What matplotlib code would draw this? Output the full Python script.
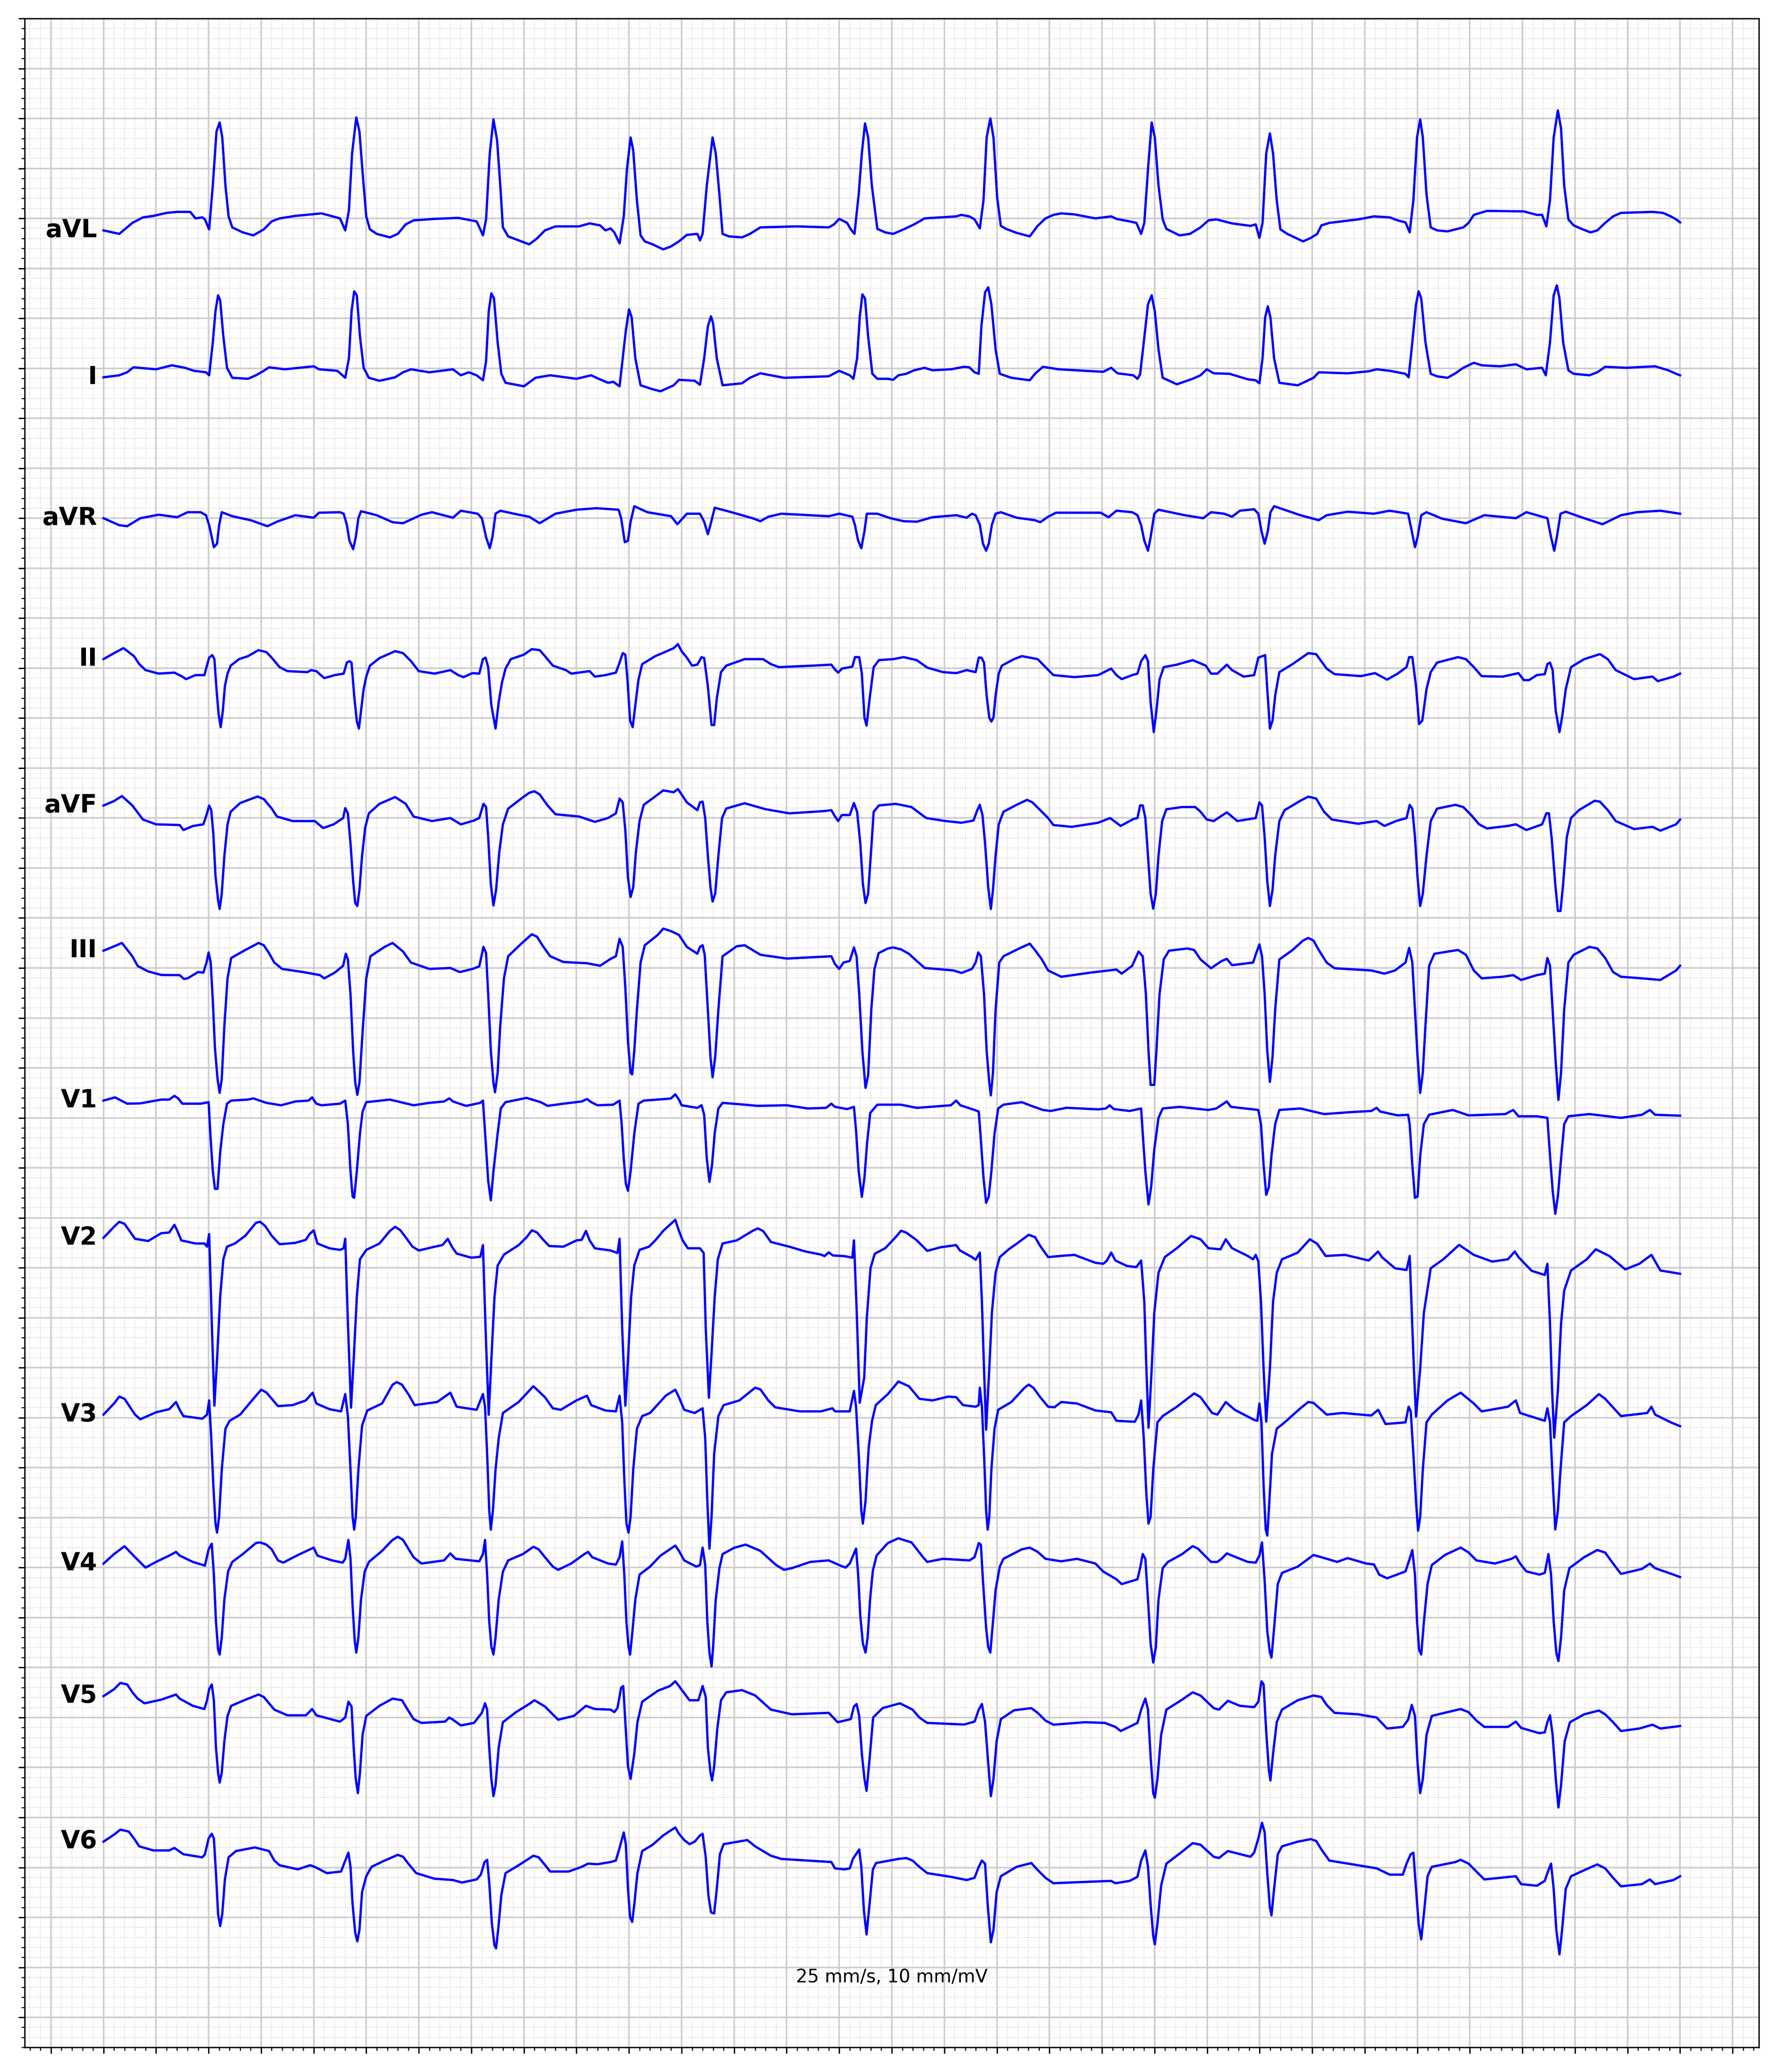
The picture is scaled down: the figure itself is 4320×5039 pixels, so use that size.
import numpy as np
import matplotlib
matplotlib.use("Agg")
import matplotlib.pyplot as plt
from matplotlib.ticker import MultipleLocator

# 12-lead ECG, 6 s (time in s, amplitude in mV)
LEADS = ["aVL", "I", "aVR", "II", "aVF", "III", "V1", "V2", "V3", "V4", "V5", "V6"]

AVL = np.array([
0.000,-0.12, 0.060,-0.155, 0.110,-0.045, 0.150,0.01, 0.190,0.025, 0.240,0.055, 0.280,0.065, 0.330,0.065, 0.350,0.0, 0.376,0.01, 0.386,-0.01, 0.402,-0.11, 0.416,0.33, 0.430,0.87, 0.442,0.96, 0.452,0.81, 0.464,0.33, 0.476,0.02, 0.490,-0.09, 0.530,-0.14, 0.570,-0.17, 0.610,-0.11, 0.640,-0.03, 0.670,0.0, 0.730,0.025, 0.830,0.05, 0.900,0.0, 0.920,-0.12, 0.934,0.08, 0.946,0.65, 0.962,1.01, 0.974,0.87, 0.986,0.46, 1.000,0.02, 1.014,-0.11, 1.040,-0.155, 1.090,-0.19, 1.120,-0.155, 1.150,-0.06, 1.180,-0.02, 1.260,-0.005, 1.350,0.005, 1.420,-0.03, 1.434,-0.11, 1.444,-0.17, 1.456,-0.01, 1.470,0.65, 1.484,0.99, 1.498,0.78, 1.510,0.33, 1.520,-0.09, 1.540,-0.18, 1.590,-0.23, 1.620,-0.26, 1.650,-0.2, 1.680,-0.12, 1.720,-0.08, 1.810,-0.08, 1.850,-0.05, 1.890,-0.07, 1.910,-0.12, 1.930,-0.1, 1.944,-0.14, 1.964,-0.25, 1.980,0.02, 1.992,0.49, 2.006,0.81, 2.016,0.68, 2.030,0.18, 2.044,-0.17, 2.060,-0.23, 2.090,-0.26, 2.130,-0.31, 2.160,-0.28, 2.190,-0.23, 2.220,-0.165, 2.260,-0.155, 2.270,-0.22, 2.280,-0.155, 2.296,0.33, 2.318,0.81, 2.330,0.65, 2.344,0.24, 2.356,-0.155, 2.380,-0.18, 2.430,-0.19, 2.460,-0.155, 2.500,-0.09, 2.640,-0.08, 2.760,-0.09, 2.780,-0.06, 2.800,-0.005, 2.830,-0.045, 2.844,-0.11, 2.858,-0.155, 2.874,0.24, 2.886,0.65, 2.898,0.95, 2.910,0.81, 2.924,0.33, 2.945,-0.105, 2.975,-0.14, 3.005,-0.155, 3.045,-0.11, 3.085,-0.06, 3.125,0.0, 3.245,0.02, 3.265,0.035, 3.295,0.02, 3.315,-0.01, 3.335,-0.1, 3.349,0.18, 3.361,0.81, 3.375,1.0, 3.387,0.81, 3.401,0.21, 3.415,-0.075, 3.435,-0.105, 3.475,-0.145, 3.525,-0.18, 3.555,-0.075, 3.585,0.0, 3.615,0.035, 3.645,0.05, 3.695,0.04, 3.775,0.0, 3.835,0.02, 3.855,-0.005, 3.905,-0.03, 3.931,-0.045, 3.949,-0.155, 3.961,-0.045, 3.975,0.49, 3.989,0.96, 4.001,0.81, 4.015,0.33, 4.031,-0.01, 4.045,-0.105, 4.095,-0.17, 4.135,-0.155, 4.175,-0.09, 4.205,-0.02, 4.235,-0.01, 4.295,-0.05, 4.365,-0.075, 4.385,-0.06, 4.399,-0.195, 4.411,-0.045, 4.425,0.65, 4.439,0.85, 4.451,0.65, 4.465,0.18, 4.479,-0.11, 4.505,-0.155, 4.565,-0.23, 4.595,-0.195, 4.619,-0.155, 4.635,-0.07, 4.665,-0.045, 4.775,-0.01, 4.835,0.02, 4.895,0.01, 4.925,-0.02, 4.955,-0.04, 4.971,-0.14, 4.985,0.18, 4.999,0.81, 5.011,0.99, 5.021,0.81, 5.035,0.24, 5.051,-0.09, 5.075,-0.12, 5.115,-0.13, 5.175,-0.09, 5.195,-0.045, 5.215,0.035, 5.265,0.075, 5.405,0.07, 5.455,0.035, 5.475,0.035, 5.491,-0.08, 5.505,0.18, 5.519,0.81, 5.535,1.08, 5.547,0.9, 5.559,0.33, 5.575,-0.01, 5.595,-0.07, 5.625,-0.105, 5.659,-0.14, 5.685,-0.12, 5.715,-0.045, 5.745,0.02, 5.775,0.055, 5.895,0.065, 5.935,0.055, 5.965,0.02, 5.985,-0.01, 6.000,-0.04,
]).reshape(-1, 2)

LEAD_I = np.array([
0.000,-0.09, 0.060,-0.07, 0.090,-0.04, 0.114,0.01, 0.200,-0.01, 0.260,0.03, 0.310,0.005, 0.344,-0.025, 0.390,-0.04, 0.402,-0.07, 0.416,0.26, 0.426,0.57, 0.436,0.73, 0.444,0.68, 0.456,0.32, 0.470,0.005, 0.490,-0.095, 0.550,-0.105, 0.580,-0.07, 0.610,-0.025, 0.630,0.01, 0.690,-0.01, 0.800,0.02, 0.820,-0.01, 0.890,-0.025, 0.920,-0.095, 0.934,0.1, 0.944,0.57, 0.954,0.77, 0.964,0.73, 0.976,0.32, 0.990,0.005, 1.010,-0.095, 1.050,-0.125, 1.110,-0.09, 1.140,-0.04, 1.170,-0.01, 1.240,-0.04, 1.330,-0.01, 1.360,-0.07, 1.390,-0.04, 1.420,-0.07, 1.444,-0.12, 1.456,0.07, 1.466,0.57, 1.476,0.75, 1.486,0.7, 1.500,0.26, 1.514,-0.055, 1.530,-0.145, 1.600,-0.18, 1.644,-0.095, 1.700,-0.07, 1.800,-0.105, 1.856,-0.07, 1.880,-0.1, 1.920,-0.145, 1.940,-0.135, 1.964,-0.18, 1.976,0.1, 1.988,0.38, 2.000,0.59, 2.010,0.51, 2.024,0.1, 2.044,-0.17, 2.090,-0.21, 2.120,-0.23, 2.170,-0.17, 2.190,-0.115, 2.250,-0.125, 2.270,-0.165, 2.286,0.1, 2.300,0.42, 2.312,0.52, 2.320,0.45, 2.334,0.1, 2.356,-0.17, 2.430,-0.15, 2.460,-0.095, 2.500,-0.05, 2.590,-0.095, 2.760,-0.08, 2.800,-0.025, 2.840,-0.07, 2.854,-0.105, 2.868,0.1, 2.878,0.51, 2.888,0.74, 2.898,0.7, 2.910,0.32, 2.926,-0.055, 2.945,-0.105, 2.985,-0.105, 3.005,-0.115, 3.025,-0.07, 3.055,-0.055, 3.085,-0.02, 3.125,0.005, 3.155,-0.02, 3.225,-0.01, 3.275,0.015, 3.295,0.01, 3.315,-0.04, 3.331,-0.055, 3.341,0.42, 3.355,0.76, 3.367,0.81, 3.379,0.64, 3.395,0.19, 3.411,-0.055, 3.455,-0.095, 3.525,-0.12, 3.545,-0.055, 3.575,0.015, 3.635,-0.01, 3.735,-0.025, 3.805,-0.035, 3.835,0.005, 3.859,-0.05, 3.919,-0.07, 3.935,-0.105, 3.945,-0.06, 3.959,0.26, 3.975,0.64, 3.989,0.73, 4.001,0.57, 4.015,0.19, 4.031,-0.095, 4.085,-0.16, 4.145,-0.105, 4.175,-0.07, 4.199,-0.01, 4.225,-0.05, 4.285,-0.055, 4.355,-0.11, 4.385,-0.12, 4.399,-0.15, 4.411,0.1, 4.421,0.51, 4.431,0.62, 4.441,0.51, 4.455,0.1, 4.475,-0.145, 4.545,-0.17, 4.605,-0.095, 4.625,-0.04, 4.735,-0.05, 4.815,-0.03, 4.845,-0.01, 4.895,-0.025, 4.955,-0.055, 4.967,-0.09, 4.981,0.26, 4.995,0.64, 5.005,0.77, 5.015,0.7, 5.031,0.26, 5.051,-0.055, 5.075,-0.08, 5.115,-0.095, 5.145,-0.05, 5.175,0.005, 5.215,0.055, 5.245,0.03, 5.315,0.02, 5.375,0.04, 5.415,-0.01, 5.475,0.005, 5.489,-0.07, 5.505,0.26, 5.519,0.73, 5.531,0.83, 5.541,0.7, 5.555,0.26, 5.575,-0.02, 5.595,-0.055, 5.655,-0.07, 5.685,-0.04, 5.715,0.015, 5.795,0.005, 5.905,0.02, 5.955,-0.02, 5.985,-0.055, 6.000,-0.07,
]).reshape(-1, 2)

AVR = np.array([
0.000,0.0, 0.060,-0.07, 0.090,-0.08, 0.140,0.0, 0.210,0.035, 0.280,0.01, 0.320,0.06, 0.370,0.06, 0.390,0.03, 0.402,-0.07, 0.412,-0.19, 0.420,-0.29, 0.432,-0.255, 0.440,-0.07, 0.450,0.06, 0.490,0.02, 0.560,-0.02, 0.624,-0.08, 0.660,-0.035, 0.730,0.03, 0.800,0.005, 0.820,0.055, 0.900,0.06, 0.914,0.045, 0.926,-0.065, 0.936,-0.225, 0.950,-0.31, 0.960,-0.19, 0.970,0.0, 0.980,0.07, 1.040,0.03, 1.100,-0.04, 1.140,-0.05, 1.210,0.035, 1.250,0.06, 1.330,0.005, 1.360,0.075, 1.424,0.045, 1.440,0.0, 1.456,-0.19, 1.470,-0.3, 1.480,-0.19, 1.492,0.045, 1.510,0.075, 1.580,0.035, 1.620,0.015, 1.660,-0.05, 1.720,0.045, 1.800,0.085, 1.876,0.1, 1.960,0.085, 1.970,0.0, 1.984,-0.24, 1.996,-0.225, 2.006,-0.035, 2.020,0.12, 2.070,0.06, 2.160,0.02, 2.184,-0.06, 2.220,0.045, 2.270,0.045, 2.286,-0.035, 2.300,-0.16, 2.310,-0.065, 2.326,0.105, 2.390,0.06, 2.470,0.0, 2.500,-0.03, 2.530,0.015, 2.580,0.045, 2.760,0.02, 2.800,0.045, 2.850,0.015, 2.860,-0.07, 2.872,-0.225, 2.884,-0.3, 2.896,-0.13, 2.905,0.045, 2.945,0.045, 2.995,0.0, 3.045,-0.03, 3.095,-0.035, 3.155,0.01, 3.245,0.03, 3.285,0.005, 3.305,0.045, 3.319,0.03, 3.335,-0.065, 3.347,-0.255, 3.359,-0.325, 3.369,-0.255, 3.381,-0.065, 3.395,0.045, 3.415,0.06, 3.475,0.005, 3.545,-0.02, 3.565,-0.04, 3.595,0.015, 3.625,0.055, 3.795,0.055, 3.825,0.01, 3.855,0.075, 3.915,0.06, 3.935,0.03, 3.949,-0.07, 3.961,-0.225, 3.975,-0.325, 3.985,-0.19, 3.999,0.045, 4.015,0.085, 4.115,0.03, 4.185,0.0, 4.215,0.06, 4.265,0.045, 4.295,0.015, 4.325,0.075, 4.379,0.09, 4.395,0.045, 4.407,-0.13, 4.419,-0.255, 4.431,-0.13, 4.441,0.06, 4.455,0.12, 4.555,0.03, 4.625,-0.02, 4.655,0.03, 4.735,0.065, 4.835,0.045, 4.895,0.075, 4.965,0.045, 4.979,-0.13, 4.991,-0.29, 5.001,-0.19, 5.015,0.03, 5.035,0.06, 5.095,-0.005, 5.185,-0.05, 5.255,0.03, 5.375,0.0, 5.415,0.06, 5.495,0.0, 5.509,-0.19, 5.521,-0.325, 5.531,-0.19, 5.545,0.045, 5.565,0.065, 5.635,0.0, 5.705,-0.06, 5.775,0.03, 5.835,0.06, 5.925,0.075, 6.000,0.045,
]).reshape(-1, 2)

LEAD_II = np.array([
0.000,0.09, 0.040,0.15, 0.076,0.2, 0.116,0.12, 0.136,0.04, 0.160,-0.02, 0.210,-0.055, 0.270,-0.045, 0.300,-0.085, 0.314,-0.11, 0.350,-0.07, 0.384,-0.07, 0.392,0.01, 0.402,0.105, 0.414,0.13, 0.422,0.09, 0.430,-0.21, 0.438,-0.46, 0.446,-0.59, 0.454,-0.43, 0.462,-0.18, 0.472,-0.055, 0.484,0.025, 0.516,0.09, 0.550,0.12, 0.590,0.18, 0.620,0.16, 0.640,0.105, 0.670,0.01, 0.700,-0.03, 0.776,-0.04, 0.790,-0.02, 0.810,-0.03, 0.840,-0.1, 0.880,-0.07, 0.914,-0.055, 0.926,0.055, 0.936,0.07, 0.944,0.055, 0.954,-0.275, 0.964,-0.53, 0.972,-0.605, 0.980,-0.43, 0.990,-0.21, 1.000,-0.085, 1.014,0.025, 1.050,0.1, 1.110,0.17, 1.140,0.15, 1.170,0.07, 1.200,-0.03, 1.260,-0.055, 1.320,-0.02, 1.350,-0.07, 1.370,-0.09, 1.404,-0.05, 1.430,-0.055, 1.444,0.09, 1.454,0.105, 1.464,0.01, 1.476,-0.37, 1.492,-0.605, 1.504,-0.34, 1.516,-0.15, 1.530,-0.005, 1.550,0.09, 1.600,0.135, 1.630,0.19, 1.660,0.18, 1.680,0.12, 1.710,0.025, 1.760,-0.02, 1.780,-0.055, 1.850,-0.03, 1.870,-0.085, 1.910,-0.07, 1.950,-0.045, 1.964,0.055, 1.976,0.15, 1.986,0.135, 1.994,-0.115, 2.004,-0.525, 2.014,-0.59, 2.024,-0.37, 2.036,-0.115, 2.050,0.04, 2.100,0.12, 2.140,0.165, 2.170,0.2, 2.186,0.24, 2.200,0.17, 2.220,0.105, 2.240,0.025, 2.260,0.035, 2.276,0.11, 2.286,0.1, 2.300,-0.18, 2.314,-0.57, 2.324,-0.57, 2.334,-0.305, 2.350,-0.04, 2.370,0.025, 2.440,0.09, 2.510,0.09, 2.540,0.04, 2.570,0.01, 2.700,0.025, 2.770,0.035, 2.784,-0.015, 2.796,-0.045, 2.810,-0.005, 2.850,0.015, 2.860,0.11, 2.876,0.11, 2.886,-0.055, 2.896,-0.495, 2.904,-0.575, 2.916,-0.3, 2.931,0.01, 2.951,0.08, 3.005,0.09, 3.045,0.11, 3.095,0.08, 3.135,0.005, 3.195,-0.04, 3.245,-0.05, 3.285,-0.02, 3.319,-0.04, 3.331,0.105, 3.341,0.105, 3.351,0.055, 3.361,-0.275, 3.371,-0.495, 3.379,-0.535, 3.387,-0.495, 3.395,-0.275, 3.407,-0.055, 3.419,0.025, 3.465,0.09, 3.495,0.12, 3.555,0.09, 3.585,0.01, 3.615,-0.07, 3.695,-0.09, 3.785,-0.07, 3.835,-0.005, 3.855,-0.07, 3.875,-0.11, 3.915,-0.07, 3.935,-0.055, 3.949,0.07, 3.965,0.13, 3.975,0.07, 3.985,-0.34, 3.997,-0.64, 4.007,-0.43, 4.019,-0.115, 4.035,0.01, 4.085,0.035, 4.145,0.08, 4.195,0.025, 4.215,-0.055, 4.239,-0.055, 4.275,0.035, 4.295,-0.02, 4.339,-0.085, 4.379,-0.07, 4.395,0.105, 4.421,0.13, 4.429,-0.21, 4.439,-0.605, 4.449,-0.525, 4.459,-0.275, 4.475,-0.04, 4.525,0.04, 4.585,0.15, 4.615,0.14, 4.655,-0.005, 4.685,-0.06, 4.785,-0.08, 4.839,-0.05, 4.885,-0.115, 4.925,-0.055, 4.959,0.01, 4.969,0.11, 4.981,0.11, 4.995,-0.18, 5.007,-0.56, 5.019,-0.525, 5.035,-0.21, 5.051,-0.04, 5.075,0.055, 5.155,0.11, 5.185,0.09, 5.215,0.01, 5.245,-0.08, 5.325,-0.085, 5.385,-0.05, 5.405,-0.12, 5.425,-0.12, 5.455,-0.07, 5.485,-0.06, 5.495,0.04, 5.505,0.055, 5.515,-0.02, 5.527,-0.43, 5.541,-0.64, 5.551,-0.49, 5.565,-0.21, 5.585,0.01, 5.635,0.09, 5.695,0.14, 5.725,0.09, 5.755,-0.02, 5.825,-0.11, 5.895,-0.085, 5.915,-0.13, 5.975,-0.085, 6.000,-0.055,
]).reshape(-1, 2)

AVF = np.array([
0.000,0.125, 0.040,0.17, 0.070,0.22, 0.110,0.125, 0.150,-0.015, 0.200,-0.063, 0.290,-0.07, 0.304,-0.12, 0.340,-0.08, 0.380,-0.063, 0.392,0.03, 0.402,0.125, 0.410,0.08, 0.418,-0.16, 0.426,-0.57, 0.436,-0.82, 0.442,-0.91, 0.450,-0.756, 0.460,-0.378, 0.472,-0.063, 0.484,0.063, 0.520,0.15, 0.560,0.19, 0.586,0.215, 0.610,0.19, 0.640,0.095, 0.660,0.015, 0.720,-0.03, 0.804,-0.03, 0.836,-0.1, 0.876,-0.063, 0.912,0.0, 0.920,0.1, 0.930,0.047, 0.940,-0.252, 0.950,-0.63, 0.958,-0.85, 0.966,-0.88, 0.974,-0.72, 0.984,-0.378, 0.996,-0.094, 1.010,0.047, 1.050,0.142, 1.110,0.21, 1.150,0.142, 1.180,0.015, 1.250,-0.03, 1.320,0.0, 1.360,-0.063, 1.410,-0.025, 1.430,0.0, 1.446,0.142, 1.456,0.11, 1.464,-0.19, 1.474,-0.66, 1.484,-0.875, 1.494,-0.72, 1.506,-0.346, 1.520,-0.063, 1.540,0.094, 1.590,0.195, 1.620,0.252, 1.640,0.268, 1.660,0.236, 1.690,0.126, 1.720,0.038, 1.810,0.015, 1.870,-0.038, 1.920,0.0, 1.950,0.047, 1.964,0.195, 1.976,0.157, 1.986,-0.126, 1.996,-0.598, 2.006,-0.79, 2.016,-0.693, 2.026,-0.346, 2.040,-0.03, 2.056,0.132, 2.110,0.236, 2.130,0.277, 2.170,0.258, 2.186,0.29, 2.200,0.236, 2.220,0.157, 2.260,0.079, 2.270,0.157, 2.280,0.164, 2.290,0.0, 2.300,-0.378, 2.310,-0.693, 2.318,-0.835, 2.328,-0.756, 2.340,-0.378, 2.354,0.0, 2.370,0.095, 2.440,0.148, 2.520,0.088, 2.610,0.047, 2.740,0.069, 2.770,0.079, 2.784,0.015, 2.796,-0.03, 2.810,0.03, 2.840,0.03, 2.856,0.15, 2.868,0.063, 2.880,-0.252, 2.890,-0.66, 2.900,-0.85, 2.910,-0.756, 2.922,-0.3, 2.931,0.063, 2.951,0.126, 3.015,0.142, 3.075,0.11, 3.131,0.0, 3.205,-0.03, 3.265,-0.047, 3.311,-0.025, 3.323,0.063, 3.335,0.132, 3.345,0.03, 3.355,-0.252, 3.367,-0.693, 3.377,-0.91, 3.385,-0.72, 3.395,-0.378, 3.407,-0.063, 3.425,0.063, 3.475,0.132, 3.515,0.182, 3.535,0.157, 3.565,0.079, 3.595,0.0, 3.615,-0.07, 3.685,-0.088, 3.785,-0.047, 3.831,0.0, 3.871,-0.079, 3.919,-0.01, 3.935,0.0, 3.945,0.126, 3.955,0.126, 3.965,0.0, 3.975,-0.378, 3.985,-0.756, 3.995,-0.907, 4.005,-0.756, 4.015,-0.378, 4.029,-0.03, 4.045,0.088, 4.105,0.11, 4.155,0.11, 4.175,0.063, 4.199,-0.015, 4.225,-0.03, 4.275,0.057, 4.315,-0.03, 4.385,0.0, 4.399,0.157, 4.409,0.126, 4.419,-0.19, 4.429,-0.63, 4.439,-0.88, 4.449,-0.72, 4.459,-0.378, 4.475,-0.03, 4.495,0.079, 4.555,0.173, 4.585,0.214, 4.615,0.195, 4.645,0.063, 4.675,-0.015, 4.775,-0.057, 4.845,-0.03, 4.875,-0.079, 4.919,-0.03, 4.959,0.0, 4.971,0.132, 4.981,0.094, 4.991,-0.19, 5.001,-0.598, 5.011,-0.88, 5.021,-0.756, 5.035,-0.378, 5.051,-0.03, 5.075,0.094, 5.145,0.132, 5.175,0.11, 5.205,0.03, 5.235,-0.063, 5.265,-0.104, 5.345,-0.079, 5.375,-0.063, 5.415,-0.12, 5.475,-0.063, 5.491,0.047, 5.501,0.047, 5.511,-0.19, 5.525,-0.66, 5.535,-0.93, 5.545,-0.93, 5.555,-0.66, 5.569,-0.19, 5.585,0.0, 5.615,0.079, 5.675,0.173, 5.695,0.164, 5.725,0.079, 5.755,-0.03, 5.825,-0.11, 5.895,-0.088, 5.925,-0.126, 5.985,-0.063, 6.000,-0.015,
]).reshape(-1, 2)

LEAD_III = np.array([
0.000,0.173, 0.050,0.227, 0.070,0.25, 0.110,0.116, 0.130,0.02, 0.170,-0.035, 0.220,-0.07, 0.290,-0.072, 0.306,-0.11, 0.320,-0.104, 0.360,-0.041, 0.380,-0.047, 0.392,0.054, 0.400,0.155, 0.408,0.054, 0.416,-0.325, 0.424,-0.797, 0.434,-1.112, 0.442,-1.25, 0.450,-1.112, 0.460,-0.576, 0.472,-0.104, 0.486,0.1, 0.540,0.18, 0.590,0.25, 0.610,0.227, 0.630,0.148, 0.650,0.054, 0.680,-0.01, 0.760,-0.041, 0.824,-0.072, 0.840,-0.104, 0.880,-0.047, 0.912,0.022, 0.922,0.142, 0.930,0.085, 0.940,-0.261, 0.950,-0.83, 0.958,-1.146, 0.966,-1.27, 0.974,-1.146, 0.986,-0.642, 1.000,-0.104, 1.016,0.117, 1.070,0.211, 1.100,0.25, 1.140,0.164, 1.170,0.054, 1.240,-0.01, 1.320,0.0, 1.356,-0.041, 1.404,-0.01, 1.430,0.016, 1.446,0.211, 1.456,0.148, 1.464,-0.261, 1.474,-0.83, 1.484,-1.146, 1.490,-1.244, 1.500,-1.049, 1.510,-0.576, 1.524,-0.104, 1.540,0.117, 1.590,0.243, 1.630,0.337, 1.650,0.312, 1.670,0.227, 1.700,0.117, 1.750,0.06, 1.840,0.047, 1.890,0.022, 1.930,0.091, 1.950,0.117, 1.964,0.291, 1.976,0.211, 1.986,-0.198, 1.996,-0.735, 2.006,-1.05, 2.012,-1.065, 2.020,-0.83, 2.030,-0.419, 2.044,0.054, 2.060,0.227, 2.110,0.332, 2.130,0.394, 2.160,0.368, 2.190,0.331, 2.220,0.211, 2.260,0.142, 2.270,0.211, 2.280,0.227, 2.288,0.132, 2.300,-0.419, 2.310,-0.89, 2.318,-1.095, 2.328,-0.89, 2.340,-0.419, 2.356,0.117, 2.410,0.217, 2.440,0.227, 2.500,0.132, 2.600,0.094, 2.770,0.117, 2.784,0.038, 2.800,-0.01, 2.816,0.054, 2.840,0.07, 2.856,0.205, 2.866,0.117, 2.876,-0.261, 2.888,-0.83, 2.900,-1.2, 2.910,-1.075, 2.922,-0.42, 2.934,-0.01, 2.950,0.148, 2.985,0.195, 3.005,0.205, 3.035,0.186, 3.065,0.142, 3.095,0.07, 3.125,0.0, 3.235,-0.025, 3.265,-0.05, 3.305,-0.01, 3.319,0.054, 3.329,0.155, 3.339,0.117, 3.351,-0.261, 3.361,-0.83, 3.371,-1.146, 3.377,-1.275, 3.385,-1.05, 3.395,-0.419, 3.409,0.054, 3.425,0.117, 3.485,0.195, 3.525,0.243, 3.545,0.179, 3.571,0.085, 3.595,-0.025, 3.645,-0.088, 3.755,-0.047, 3.855,-0.016, 3.875,-0.057, 3.915,0.022, 3.939,0.164, 3.955,0.117, 3.967,-0.261, 3.977,-0.83, 3.985,-1.17, 3.999,-1.17, 4.007,-0.83, 4.019,-0.261, 4.035,0.085, 4.055,0.173, 4.125,0.195, 4.151,0.179, 4.175,0.085, 4.215,-0.003, 4.255,0.069, 4.275,0.091, 4.295,0.028, 4.375,0.054, 4.387,0.148, 4.399,0.236, 4.409,0.117, 4.419,-0.261, 4.429,-0.83, 4.439,-1.14, 4.449,-0.89, 4.459,-0.419, 4.475,0.085, 4.525,0.179, 4.565,0.274, 4.585,0.3, 4.605,0.274, 4.625,0.179, 4.655,0.054, 4.685,-0.003, 4.825,-0.025, 4.875,-0.057, 4.915,-0.025, 4.955,0.054, 4.969,0.2, 4.981,0.054, 4.991,-0.419, 5.001,-0.89, 5.011,-1.25, 5.021,-1.045, 5.031,-0.576, 5.045,0.022, 5.065,0.142, 5.155,0.18, 5.185,0.132, 5.215,-0.025, 5.245,-0.104, 5.325,-0.088, 5.365,-0.072, 5.395,-0.12, 5.455,-0.072, 5.485,-0.057, 5.495,0.1, 5.505,0.022, 5.515,-0.419, 5.527,-0.955, 5.537,-1.32, 5.547,-1.05, 5.559,-0.419, 5.575,0.054, 5.595,0.132, 5.655,0.211, 5.685,0.195, 5.715,0.1, 5.745,-0.041, 5.775,-0.088, 5.855,-0.104, 5.925,-0.12, 5.985,-0.025, 6.000,0.022,
]).reshape(-1, 2)

V1 = np.array([
0.000,0.173, 0.044,0.205, 0.090,0.142, 0.140,0.145, 0.220,0.183, 0.250,0.183, 0.270,0.22, 0.284,0.195, 0.300,0.142, 0.370,0.142, 0.400,0.157, 0.408,-0.22, 0.416,-0.535, 0.424,-0.71, 0.434,-0.71, 0.444,-0.346, 0.456,-0.063, 0.470,0.142, 0.486,0.173, 0.550,0.183, 0.570,0.195, 0.620,0.15, 0.676,0.126, 0.730,0.164, 0.780,0.173, 0.794,0.205, 0.810,0.142, 0.830,0.126, 0.900,0.142, 0.920,0.173, 0.930,-0.063, 0.940,-0.535, 0.948,-0.787, 0.954,-0.8, 0.964,-0.535, 0.976,-0.157, 0.986,0.063, 1.000,0.157, 1.090,0.183, 1.120,0.164, 1.180,0.126, 1.240,0.15, 1.296,0.164, 1.316,0.195, 1.330,0.164, 1.380,0.12, 1.434,0.15, 1.444,0.173, 1.454,-0.22, 1.464,-0.63, 1.474,-0.825, 1.484,-0.535, 1.500,-0.157, 1.512,0.095, 1.530,0.157, 1.610,0.2, 1.664,0.157, 1.690,0.12, 1.750,0.142, 1.820,0.164, 1.840,0.189, 1.856,0.157, 1.880,0.126, 1.940,0.132, 1.964,0.173, 1.972,-0.063, 1.980,-0.41, 1.988,-0.66, 1.996,-0.73, 2.006,-0.535, 2.020,-0.157, 2.036,0.142, 2.056,0.173, 2.140,0.189, 2.160,0.195, 2.176,0.236, 2.190,0.183, 2.200,0.126, 2.260,0.1, 2.276,0.126, 2.286,0.031, 2.296,-0.41, 2.306,-0.64, 2.316,-0.47, 2.326,-0.157, 2.340,0.094, 2.356,0.15, 2.440,0.132, 2.490,0.12, 2.600,0.126, 2.680,0.094, 2.750,0.1, 2.770,0.142, 2.784,0.11, 2.830,0.088, 2.856,0.11, 2.864,-0.126, 2.874,-0.535, 2.886,-0.79, 2.896,-0.598, 2.906,-0.25, 2.918,0.05, 2.945,0.132, 3.035,0.132, 3.095,0.1, 3.195,0.12, 3.225,0.126, 3.245,0.173, 3.261,0.126, 3.315,0.079, 3.331,0.063, 3.339,-0.22, 3.349,-0.598, 3.359,-0.85, 3.369,-0.787, 3.379,-0.535, 3.391,-0.157, 3.405,0.094, 3.425,0.132, 3.495,0.157, 3.525,0.126, 3.575,0.079, 3.605,0.069, 3.665,0.101, 3.785,0.085, 3.815,0.094, 3.829,0.126, 3.845,0.088, 3.905,0.069, 3.949,0.094, 3.955,-0.157, 3.965,-0.535, 3.977,-0.866, 3.987,-0.693, 3.999,-0.315, 4.015,0.0, 4.031,0.094, 4.095,0.11, 4.205,0.079, 4.235,0.094, 4.275,0.164, 4.291,0.11, 4.395,0.079, 4.405,-0.063, 4.415,-0.472, 4.425,-0.77, 4.435,-0.693, 4.445,-0.378, 4.459,-0.063, 4.475,0.079, 4.555,0.094, 4.645,0.038, 4.745,0.057, 4.825,0.069, 4.845,0.101, 4.859,0.063, 4.925,0.025, 4.965,0.031, 4.971,-0.063, 4.981,-0.472, 4.991,-0.8, 5.001,-0.787, 5.011,-0.378, 5.025,-0.063, 5.045,0.031, 5.135,0.079, 5.195,0.025, 5.335,0.038, 5.365,0.079, 5.385,0.016, 5.455,0.016, 5.495,0.0, 5.505,-0.378, 5.515,-0.724, 5.525,-0.96, 5.535,-0.787, 5.545,-0.472, 5.559,-0.063, 5.575,0.016, 5.655,0.038, 5.775,0.0, 5.855,0.031, 5.885,0.079, 5.905,0.031, 6.000,0.022,
]).reshape(-1, 2)

V2 = np.array([
0.000,0.3, 0.040,0.41, 0.060,0.46, 0.080,0.44, 0.120,0.29, 0.170,0.268, 0.220,0.346, 0.250,0.353, 0.270,0.43, 0.280,0.375, 0.296,0.274, 0.350,0.243, 0.384,0.243, 0.394,0.211, 0.402,0.337, 0.412,-0.545, 0.422,-1.38, 0.432,-0.922, 0.444,-0.293, 0.456,0.085, 0.470,0.211, 0.500,0.243, 0.540,0.321, 0.580,0.45, 0.596,0.46, 0.616,0.416, 0.640,0.321, 0.670,0.236, 0.730,0.249, 0.770,0.28, 0.784,0.337, 0.800,0.375, 0.814,0.243, 0.860,0.195, 0.900,0.179, 0.914,0.195, 0.920,0.29, 0.930,-0.545, 0.942,-1.4, 0.952,-0.922, 0.964,-0.293, 0.976,0.085, 1.000,0.179, 1.050,0.242, 1.090,0.369, 1.110,0.41, 1.130,0.375, 1.150,0.305, 1.176,0.211, 1.200,0.173, 1.260,0.211, 1.290,0.227, 1.310,0.29, 1.326,0.211, 1.344,0.142, 1.400,0.101, 1.434,0.11, 1.444,0.227, 1.454,-0.608, 1.466,-1.47, 1.476,-0.922, 1.488,-0.293, 1.500,0.022, 1.524,0.132, 1.580,0.227, 1.610,0.305, 1.630,0.375, 1.650,0.353, 1.670,0.29, 1.696,0.218, 1.750,0.211, 1.800,0.274, 1.820,0.28, 1.836,0.369, 1.850,0.274, 1.870,0.195, 1.930,0.173, 1.956,0.148, 1.964,0.29, 1.974,-0.608, 1.986,-1.38, 1.996,-0.922, 2.008,-0.293, 2.020,0.022, 2.040,0.179, 2.076,0.211, 2.100,0.274, 2.130,0.369, 2.156,0.432, 2.176,0.48, 2.190,0.369, 2.204,0.274, 2.224,0.195, 2.270,0.195, 2.284,0.148, 2.292,-0.608, 2.304,-1.3, 2.314,-0.86, 2.326,-0.293, 2.338,0.085, 2.356,0.243, 2.410,0.274, 2.470,0.369, 2.490,0.394, 2.510,0.369, 2.540,0.258, 2.610,0.211, 2.670,0.164, 2.730,0.132, 2.744,0.117, 2.760,0.154, 2.776,0.123, 2.820,0.117, 2.850,0.101, 2.856,0.274, 2.866,-0.4, 2.878,-1.35, 2.895,-1.1, 2.905,-0.5, 2.919,-0.005, 2.935,0.14, 2.975,0.196, 3.015,0.307, 3.035,0.37, 3.055,0.352, 3.095,0.275, 3.135,0.169, 3.185,0.205, 3.245,0.227, 3.259,0.174, 3.305,0.107, 3.319,0.08, 3.335,0.152, 3.343,-0.34, 3.351,-1.01, 3.359,-1.62, 3.371,-1.01, 3.381,-0.45, 3.395,-0.05, 3.411,0.107, 3.445,0.185, 3.475,0.24, 3.521,0.33, 3.545,0.307, 3.565,0.218, 3.595,0.107, 3.639,0.118, 3.695,0.129, 3.775,0.05, 3.805,0.04, 3.819,0.073, 3.835,0.152, 3.851,0.073, 3.895,0.018, 3.931,0.007, 3.949,0.073, 3.961,-0.34, 3.969,-1.01, 3.977,-1.6, 3.987,-1.12, 3.999,-0.45, 4.015,-0.05, 4.039,0.107, 4.085,0.196, 4.139,0.318, 4.175,0.285, 4.205,0.196, 4.251,0.185, 4.271,0.285, 4.295,0.196, 4.355,0.118, 4.375,0.085, 4.385,0.129, 4.395,0.062, 4.405,-0.34, 4.415,-1.01, 4.425,-1.54, 4.439,-1.01, 4.451,-0.34, 4.465,-0.05, 4.485,0.085, 4.545,0.152, 4.591,0.285, 4.619,0.24, 4.651,0.118, 4.725,0.129, 4.815,0.073, 4.851,0.163, 4.865,0.107, 4.915,-0.005, 4.959,-0.022, 4.971,0.118, 4.979,-0.45, 4.987,-1.01, 4.995,-1.49, 5.011,-1.01, 5.025,-0.45, 5.051,-0.005, 5.099,0.085, 5.159,0.229, 5.215,0.129, 5.285,0.062, 5.345,0.085, 5.371,0.163, 5.385,0.107, 5.435,-0.03, 5.485,-0.072, 5.495,0.04, 5.505,-0.56, 5.513,-1.23, 5.521,-1.7, 5.535,-1.23, 5.547,-0.56, 5.559,-0.228, 5.585,-0.027, 5.645,0.085, 5.679,0.185, 5.731,0.118, 5.791,-0.016, 5.845,0.04, 5.891,0.129, 5.925,-0.027, 6.000,-0.06,
]).reshape(-1, 2)

V3 = np.array([
0.000,0.031, 0.040,0.142, 0.060,0.211, 0.080,0.189, 0.120,0.031, 0.140,-0.016, 0.200,0.054, 0.250,0.085, 0.276,0.157, 0.290,0.079, 0.304,0.016, 0.376,-0.01, 0.394,0.031, 0.402,0.173, 0.410,-0.205, 0.418,-0.677, 0.426,-1.055, 0.432,-1.15, 0.440,-0.992, 0.450,-0.52, 0.464,-0.11, 0.480,-0.031, 0.520,0.031, 0.560,0.157, 0.600,0.28, 0.620,0.252, 0.664,0.116, 0.720,0.126, 0.770,0.173, 0.796,0.25, 0.810,0.142, 0.860,0.085, 0.904,0.063, 0.920,0.236, 0.930,0.016, 0.940,-0.52, 0.948,-0.992, 0.954,-1.12, 0.960,-0.992, 0.970,-0.52, 0.984,-0.079, 1.004,0.072, 1.060,0.142, 1.100,0.33, 1.116,0.356, 1.136,0.33, 1.160,0.236, 1.184,0.126, 1.270,0.157, 1.320,0.25, 1.344,0.11, 1.420,0.079, 1.444,0.236, 1.452,0.11, 1.460,-0.362, 1.468,-0.929, 1.474,-1.12, 1.482,-0.929, 1.492,-0.52, 1.504,-0.205, 1.520,0.047, 1.580,0.157, 1.636,0.315, 1.680,0.205, 1.710,0.094, 1.740,0.079, 1.800,0.173, 1.840,0.22, 1.856,0.126, 1.910,0.072, 1.950,0.063, 1.964,0.22, 1.974,-0.047, 1.982,-0.614, 1.990,-1.055, 1.998,-1.15, 2.006,-0.992, 2.016,-0.52, 2.030,-0.11, 2.050,0.016, 2.080,0.047, 2.140,0.221, 2.176,0.28, 2.190,0.205, 2.210,0.079, 2.250,0.047, 2.280,0.094, 2.290,-0.205, 2.298,-0.835, 2.306,-1.31, 2.314,-0.992, 2.324,-0.362, 2.340,0.016, 2.360,0.126, 2.420,0.173, 2.480,0.3, 2.500,0.283, 2.530,0.173, 2.556,0.104, 2.650,0.063, 2.730,0.063, 2.774,0.094, 2.784,0.063, 2.840,0.063, 2.856,0.268, 2.864,0.11, 2.874,-0.362, 2.884,-0.929, 2.890,-1.06, 2.900,-0.835, 2.912,-0.3, 2.925,-0.031, 2.939,0.126, 2.985,0.236, 3.025,0.362, 3.065,0.315, 3.105,0.189, 3.155,0.173, 3.215,0.211, 3.245,0.205, 3.271,0.126, 3.319,0.11, 3.331,0.126, 3.335,0.3, 3.343,0.11, 3.351,-0.362, 3.359,-0.929, 3.365,-1.12, 3.371,-0.992, 3.379,-0.52, 3.391,-0.11, 3.405,0.079, 3.455,0.157, 3.505,0.299, 3.521,0.331, 3.539,0.299, 3.565,0.205, 3.595,0.11, 3.619,0.104, 3.645,0.157, 3.705,0.142, 3.775,0.072, 3.835,0.054, 3.855,-0.031, 3.925,-0.041, 3.939,0.031, 3.949,0.173, 3.959,-0.205, 3.969,-0.771, 3.977,-1.06, 3.985,-0.992, 3.995,-0.52, 4.011,-0.047, 4.031,0.016, 4.085,0.11, 4.151,0.243, 4.175,0.205, 4.219,0.047, 4.239,0.031, 4.271,0.157, 4.305,0.079, 4.379,-0.022, 4.391,-0.031, 4.399,0.142, 4.407,-0.047, 4.415,-0.677, 4.423,-1.118, 4.429,-1.18, 4.437,-0.835, 4.447,-0.362, 4.465,-0.11, 4.495,-0.047, 4.555,0.094, 4.585,0.157, 4.605,0.148, 4.655,0.031, 4.715,0.047, 4.825,0.022, 4.851,0.079, 4.879,-0.063, 4.955,-0.047, 4.967,0.11, 4.975,0.063, 4.985,-0.362, 4.995,-0.835, 5.003,-1.13, 5.011,-0.992, 5.021,-0.52, 5.035,-0.047, 5.055,0.031, 5.115,0.173, 5.165,0.25, 5.215,0.142, 5.245,0.063, 5.345,0.11, 5.375,0.173, 5.391,0.047, 5.485,-0.031, 5.495,0.094, 5.505,-0.047, 5.515,-0.614, 5.525,-1.118, 5.535,-0.929, 5.545,-0.52, 5.559,-0.047, 5.585,0.016, 5.645,0.126, 5.691,0.236, 5.715,0.189, 5.775,0.016, 5.875,0.047, 5.891,0.11, 5.905,0.031, 5.965,-0.047, 6.000,-0.085,
]).reshape(-1, 2)

V4 = np.array([
0.000,0.04, 0.040,0.135, 0.080,0.214, 0.120,0.104, 0.160,0.0, 0.200,0.057, 0.250,0.12, 0.276,0.157, 0.290,0.12, 0.340,0.057, 0.386,0.02, 0.400,0.183, 0.412,0.239, 0.420,-0.07, 0.428,-0.54, 0.436,-0.82, 0.442,-0.87, 0.450,-0.7, 0.460,-0.32, 0.474,-0.04, 0.490,0.057, 0.530,0.135, 0.580,0.246, 0.596,0.252, 0.620,0.23, 0.640,0.183, 0.664,0.072, 0.684,0.05, 0.740,0.126, 0.800,0.2, 0.814,0.12, 0.870,0.072, 0.910,0.05, 0.920,0.088, 0.932,0.277, 0.940,0.088, 0.948,-0.385, 0.956,-0.73, 0.962,-0.85, 0.970,-0.7, 0.980,-0.32, 0.994,-0.04, 1.010,0.057, 1.060,0.167, 1.100,0.277, 1.120,0.309, 1.140,0.277, 1.180,0.104, 1.210,0.041, 1.296,0.072, 1.320,0.142, 1.340,0.088, 1.430,0.063, 1.444,0.135, 1.452,0.277, 1.460,-0.07, 1.468,-0.54, 1.476,-0.79, 1.484,-0.87, 1.492,-0.7, 1.504,-0.32, 1.520,-0.04, 1.540,0.072, 1.596,0.135, 1.636,0.208, 1.656,0.183, 1.680,0.104, 1.710,0.01, 1.730,-0.022, 1.780,0.041, 1.830,0.135, 1.844,0.157, 1.860,0.104, 1.920,0.041, 1.950,0.03, 1.964,0.104, 1.974,0.262, 1.982,-0.07, 1.990,-0.54, 1.998,-0.79, 2.004,-0.87, 2.012,-0.665, 2.024,-0.32, 2.040,-0.07, 2.080,0.01, 2.120,0.12, 2.176,0.22, 2.190,0.167, 2.210,0.072, 2.256,0.01, 2.270,0.025, 2.280,0.2, 2.290,0.025, 2.298,-0.54, 2.306,-0.85, 2.314,-0.99, 2.320,-0.795, 2.330,-0.32, 2.344,-0.005, 2.356,0.135, 2.400,0.198, 2.444,0.23, 2.500,0.167, 2.560,0.025, 2.590,-0.022, 2.620,-0.005, 2.690,0.057, 2.760,0.072, 2.800,0.025, 2.824,0.0, 2.840,0.041, 2.864,0.19, 2.872,-0.07, 2.880,-0.48, 2.890,-0.76, 2.900,-0.85, 2.908,-0.7, 2.918,-0.3, 2.928,-0.03, 2.942,0.12, 2.985,0.246, 3.025,0.293, 3.075,0.252, 3.119,0.104, 3.135,0.057, 3.195,0.088, 3.295,0.072, 3.315,0.104, 3.331,0.246, 3.339,0.23, 3.347,-0.13, 3.359,-0.605, 3.367,-0.795, 3.375,-0.85, 3.385,-0.545, 3.395,-0.227, 3.411,0.01, 3.425,0.088, 3.495,0.183, 3.525,0.2, 3.555,0.158, 3.585,0.088, 3.645,0.063, 3.705,0.088, 3.775,0.041, 3.805,-0.04, 3.855,-0.117, 3.875,-0.165, 3.935,-0.117, 3.945,-0.005, 3.955,0.135, 3.965,0.088, 3.975,-0.32, 3.985,-0.76, 3.995,-0.95, 4.005,-0.795, 4.015,-0.32, 4.031,-0.005, 4.051,0.057, 4.105,0.135, 4.145,0.215, 4.165,0.19, 4.215,0.057, 4.239,0.057, 4.255,0.088, 4.275,0.142, 4.295,0.12, 4.355,0.057, 4.385,0.05, 4.399,0.12, 4.409,0.252, 4.419,-0.13, 4.429,-0.635, 4.439,-0.85, 4.445,-0.9, 4.455,-0.605, 4.469,-0.164, 4.485,-0.053, 4.545,0.01, 4.605,0.126, 4.635,0.104, 4.695,0.057, 4.735,0.095, 4.805,0.041, 4.835,0.032, 4.855,-0.07, 4.885,-0.107, 4.955,-0.038, 4.971,0.088, 4.981,0.176, 4.991,-0.07, 4.999,-0.54, 5.007,-0.825, 5.015,-0.87, 5.025,-0.545, 5.039,-0.164, 5.055,0.025, 5.105,0.126, 5.165,0.2, 5.195,0.152, 5.225,0.072, 5.295,0.041, 5.359,0.088, 5.375,0.113, 5.391,0.041, 5.415,-0.038, 5.465,-0.07, 5.485,-0.053, 5.499,0.135, 5.509,-0.07, 5.519,-0.54, 5.529,-0.85, 5.537,-0.935, 5.547,-0.7, 5.559,-0.227, 5.579,-0.005, 5.635,0.104, 5.685,0.176, 5.715,0.15, 5.745,0.041, 5.775,-0.063, 5.855,-0.013, 5.885,0.04, 5.905,-0.006, 5.975,-0.07, 6.000,-0.095,
]).reshape(-1, 2)

V5 = np.array([
0.000,0.214, 0.040,0.283, 0.064,0.346, 0.090,0.331, 0.110,0.252, 0.130,0.189, 0.156,0.142, 0.220,0.179, 0.276,0.23, 0.290,0.189, 0.340,0.117, 0.384,0.085, 0.394,0.173, 0.402,0.283, 0.412,0.331, 0.420,0.173, 0.428,-0.299, 0.436,-0.551, 0.442,-0.651, 0.450,-0.551, 0.460,-0.236, 0.472,0.016, 0.486,0.117, 0.530,0.167, 0.590,0.23, 0.610,0.205, 0.650,0.079, 0.700,0.022, 0.770,0.022, 0.794,0.085, 0.810,0.022, 0.900,-0.041, 0.920,0.0, 0.932,0.158, 0.944,0.11, 0.952,-0.299, 0.960,-0.614, 0.968,-0.756, 0.976,-0.551, 0.986,-0.173, 1.000,0.016, 1.050,0.117, 1.100,0.189, 1.136,0.173, 1.156,0.085, 1.180,-0.016, 1.210,-0.054, 1.300,-0.041, 1.316,0.0, 1.330,-0.022, 1.360,-0.079, 1.410,-0.054, 1.440,0.047, 1.452,0.142, 1.460,0.079, 1.468,-0.299, 1.476,-0.614, 1.484,-0.787, 1.492,-0.677, 1.504,-0.299, 1.520,-0.047, 1.570,0.054, 1.620,0.135, 1.640,0.173, 1.680,0.11, 1.730,-0.022, 1.790,0.016, 1.836,0.117, 1.870,0.085, 1.930,0.079, 1.944,0.054, 1.956,0.095, 1.970,0.299, 1.978,0.315, 1.986,-0.047, 1.996,-0.488, 2.006,-0.614, 2.020,-0.362, 2.032,-0.047, 2.050,0.158, 2.110,0.268, 2.156,0.315, 2.176,0.362, 2.190,0.315, 2.230,0.173, 2.264,0.173, 2.280,0.315, 2.292,0.205, 2.300,-0.299, 2.310,-0.551, 2.316,-0.63, 2.324,-0.488, 2.336,-0.11, 2.350,0.173, 2.370,0.252, 2.430,0.274, 2.480,0.221, 2.540,0.079, 2.620,0.032, 2.760,0.047, 2.794,-0.047, 2.844,-0.016, 2.856,0.11, 2.866,0.135, 2.876,0.016, 2.886,-0.362, 2.896,-0.614, 2.904,-0.734, 2.916,-0.4, 2.929,0.0, 2.965,0.094, 3.031,0.142, 3.079,0.079, 3.105,0.0, 3.135,-0.054, 3.275,-0.07, 3.315,-0.041, 3.331,0.079, 3.343,0.135, 3.355,-0.047, 3.367,-0.457, 3.377,-0.787, 3.387,-0.614, 3.399,-0.236, 3.415,-0.016, 3.465,0.072, 3.531,0.094, 3.555,0.047, 3.585,-0.031, 3.615,-0.072, 3.735,-0.047, 3.811,-0.054, 3.851,-0.094, 3.871,-0.135, 3.915,-0.079, 3.935,-0.054, 3.949,0.079, 3.965,0.19, 3.975,0.079, 3.985,-0.394, 3.995,-0.756, 4.001,-0.803, 4.011,-0.614, 4.025,-0.173, 4.045,0.079, 4.105,0.179, 4.145,0.252, 4.175,0.22, 4.225,0.094, 4.245,0.079, 4.279,0.167, 4.325,0.117, 4.379,0.104, 4.395,0.158, 4.407,0.362, 4.415,0.331, 4.425,-0.142, 4.435,-0.52, 4.441,-0.63, 4.451,-0.362, 4.465,-0.047, 4.485,0.079, 4.545,0.173, 4.605,0.22, 4.635,0.205, 4.655,0.126, 4.685,0.047, 4.775,0.032, 4.845,0.0, 4.885,-0.11, 4.945,-0.094, 4.965,-0.022, 4.979,0.126, 4.991,0.016, 5.001,-0.457, 5.011,-0.756, 5.021,-0.614, 5.035,-0.173, 5.055,0.016, 5.115,0.054, 5.165,0.085, 5.195,0.054, 5.225,-0.031, 5.255,-0.094, 5.345,-0.094, 5.375,-0.041, 5.395,-0.104, 5.465,-0.157, 5.485,-0.148, 5.495,-0.047, 5.505,0.022, 5.515,-0.173, 5.527,-0.614, 5.537,-0.9, 5.547,-0.677, 5.561,-0.236, 5.581,-0.047, 5.635,0.032, 5.691,0.07, 5.715,0.032, 5.745,-0.047, 5.775,-0.135, 5.845,-0.11, 5.895,-0.072, 5.925,-0.11, 6.000,-0.085,
]).reshape(-1, 2)

V6 = np.array([
0.000,0.258, 0.040,0.328, 0.064,0.378, 0.096,0.359, 0.116,0.29, 0.136,0.211, 0.190,0.17, 0.250,0.17, 0.270,0.195, 0.304,0.132, 0.376,0.101, 0.386,0.132, 0.400,0.29, 0.412,0.337, 0.420,0.29, 0.428,-0.057, 0.436,-0.466, 0.444,-0.586, 0.452,-0.466, 0.462,-0.12, 0.476,0.101, 0.504,0.164, 0.576,0.2, 0.630,0.164, 0.650,0.069, 0.670,0.022, 0.740,-0.019, 0.786,0.022, 0.804,0.006, 0.850,-0.057, 0.904,-0.041, 0.920,0.069, 0.932,0.148, 0.940,0.006, 0.948,-0.372, 0.958,-0.655, 0.966,-0.74, 0.974,-0.624, 0.984,-0.246, 1.000,-0.088, 1.020,0.006, 1.070,0.069, 1.120,0.126, 1.140,0.107, 1.160,0.038, 1.190,-0.057, 1.260,-0.113, 1.330,-0.126, 1.364,-0.151, 1.420,-0.12, 1.436,-0.072, 1.450,0.054, 1.460,0.076, 1.468,-0.151, 1.478,-0.561, 1.488,-0.781, 1.494,-0.81, 1.502,-0.624, 1.514,-0.277, 1.530,-0.057, 1.580,0.022, 1.636,0.117, 1.656,0.101, 1.676,0.038, 1.700,-0.041, 1.770,-0.041, 1.820,0.006, 1.844,0.038, 1.880,0.032, 1.930,0.054, 1.950,0.069, 1.964,0.195, 1.980,0.35, 1.988,0.227, 1.996,-0.214, 2.004,-0.498, 2.012,-0.545, 2.020,-0.372, 2.032,-0.057, 2.050,0.164, 2.090,0.227, 2.130,0.32, 2.176,0.4, 2.190,0.337, 2.210,0.274, 2.230,0.233, 2.250,0.258, 2.270,0.32, 2.280,0.337, 2.292,0.101, 2.302,-0.277, 2.312,-0.45, 2.324,-0.46, 2.334,-0.214, 2.346,0.132, 2.360,0.233, 2.450,0.274, 2.480,0.211, 2.540,0.117, 2.580,0.085, 2.770,0.054, 2.784,-0.01, 2.820,-0.019, 2.840,-0.01, 2.852,0.085, 2.876,0.18, 2.884,0.006, 2.894,-0.435, 2.904,-0.671, 2.916,-0.35, 2.928,-0.02, 2.940,0.044, 3.025,0.085, 3.055,0.094, 3.079,0.069, 3.105,0.006, 3.135,-0.057, 3.225,-0.094, 3.285,-0.126, 3.315,-0.104, 3.331,0.006, 3.343,0.069, 3.355,0.038, 3.365,-0.372, 3.377,-0.75, 3.387,-0.624, 3.399,-0.246, 3.415,-0.088, 3.475,0.006, 3.531,0.044, 3.555,-0.025, 3.585,-0.104, 3.615,-0.158, 3.735,-0.145, 3.835,-0.135, 3.851,-0.158, 3.905,-0.135, 3.935,-0.094, 3.949,0.069, 3.965,0.17, 3.975,0.006, 3.985,-0.372, 3.995,-0.687, 4.001,-0.77, 4.011,-0.561, 4.025,-0.183, 4.045,0.038, 4.105,0.158, 4.145,0.243, 4.175,0.227, 4.225,0.107, 4.245,0.094, 4.279,0.164, 4.365,0.107, 4.379,0.148, 4.395,0.29, 4.409,0.447, 4.419,0.353, 4.429,-0.057, 4.439,-0.403, 4.445,-0.48, 4.455,-0.214, 4.469,0.132, 4.485,0.211, 4.545,0.258, 4.595,0.283, 4.615,0.265, 4.635,0.18, 4.665,0.069, 4.795,0.013, 4.845,-0.009, 4.895,-0.072, 4.945,-0.072, 4.959,0.038, 4.975,0.132, 4.985,0.148, 4.995,-0.214, 5.005,-0.561, 5.015,-0.72, 5.025,-0.466, 5.039,-0.088, 5.055,0.006, 5.145,0.054, 5.165,0.076, 5.195,0.038, 5.225,-0.041, 5.255,-0.12, 5.375,-0.088, 5.395,-0.167, 5.455,-0.183, 5.485,-0.135, 5.495,-0.057, 5.509,0.038, 5.519,-0.214, 5.529,-0.624, 5.541,-0.87, 5.551,-0.624, 5.565,-0.214, 5.585,-0.088, 5.651,-0.009, 5.685,0.03, 5.715,-0.009, 5.745,-0.104, 5.775,-0.189, 5.855,-0.167, 5.885,-0.12, 5.905,-0.167, 5.975,-0.126, 6.000,-0.088,
]).reshape(-1, 2)

SIGNALS = [AVL, LEAD_I, AVR, LEAD_II, AVF, LEAD_III, V1, V2, V3, V4, V5, V6]
CAPTION = "25 mm/s, 10 mm/mV"

W, H, DPI = 4320, 5039, 300
fig = plt.figure(figsize=(W / DPI, H / DPI), dpi=DPI)
ax = fig.add_axes([60 / W, 1 - 4979 / H, (4276 - 60) / W, (4979 - 45) / H])

ax.set_xlim(-0.3, 6.3)
ax.set_ylim(-18.3, 2.0)
ax.xaxis.set_major_locator(MultipleLocator(0.2))
ax.xaxis.set_minor_locator(MultipleLocator(0.04))
ax.yaxis.set_major_locator(MultipleLocator(0.5))
ax.yaxis.set_minor_locator(MultipleLocator(0.1))
ax.grid(which="major", color="#cccccc", linewidth=0.9, linestyle="-")
ax.grid(which="minor", color="#d0d0d0", linewidth=0.5, linestyle=":")
ax.set_axisbelow(True)
ax.tick_params(labelbottom=False, labelleft=False)

step = 1.5  # vertical spacing between leads (mV)
for i, (name, sig) in enumerate(zip(LEADS, SIGNALS)):
    off = -step * i
    ax.plot(sig[:, 0], sig[:, 1] + off, color="blue", linewidth=1.35)
    ax.text(-0.024, sig[0, 1] + off, name, ha="right", va="center",
            fontsize=14.5, fontweight="bold", color="black")

ax.text(3.0, -17.6, CAPTION, ha="center", va="center", fontsize=10.6)

fig.savefig("out.png", dpi=DPI)
